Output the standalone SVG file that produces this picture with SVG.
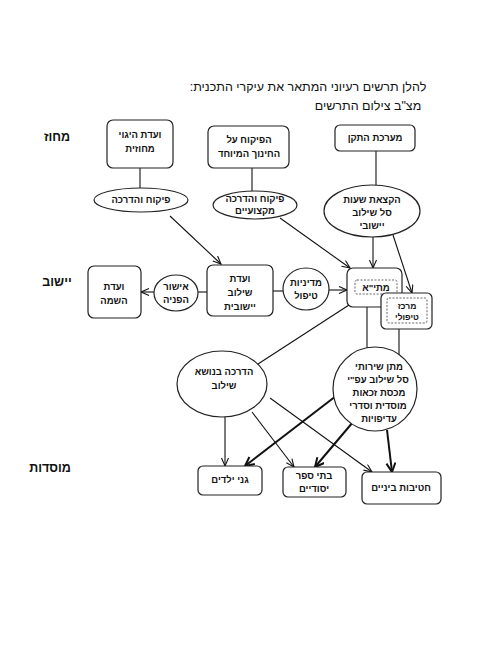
<svg xmlns="http://www.w3.org/2000/svg" width="495" height="660" viewBox="0 0 495 660">
<defs>
<marker id="ah" markerUnits="userSpaceOnUse" markerWidth="12" markerHeight="10" refX="9" refY="4" orient="auto">
<path d="M1,0.5 L9,4 L1,7.5" fill="none" stroke="#111" stroke-width="1.1"/>
</marker>
<marker id="ahb" markerUnits="userSpaceOnUse" markerWidth="14" markerHeight="12" refX="10" refY="5" orient="auto">
<path d="M1,0.5 L10,5 L1,9.5" fill="none" stroke="#111" stroke-width="2"/>
</marker>
</defs>
<style>
text{font-family:"Liberation Sans","DejaVu Sans",sans-serif;font-weight:bold;fill:#111;direction:rtl;text-anchor:middle}
.t{font-size:9.5px}
.h{font-size:12.5px;font-weight:normal}
.s{font-size:12.5px}
.b{fill:#fff;stroke:#222;stroke-width:1.2}
.d{fill:none;stroke:#555;stroke-width:0.9;stroke-dasharray:2,1.5}
.l{stroke:#111;stroke-width:1.1;fill:none}
.k{stroke:#111;stroke-width:2;fill:none}
</style>
<rect width="495" height="660" fill="#fff"/>
<text class="h" x="308" y="91">להלן תרשים רעיוני המתאר את עיקרי התכנית:</text>
<text class="h" x="368" y="110">מצ"ב צילום התרשים</text>
<text class="s" x="57" y="141">מחוז</text>
<text class="s" x="57" y="286">יישוב</text>
<text class="s" x="50" y="472">מוסדות</text>
<g id="connectors">
<line class="l" x1="140" y1="168" x2="140" y2="188"/>
<line class="l" x1="252" y1="168" x2="252" y2="191"/>
<line class="l" x1="376" y1="151" x2="376" y2="185"/>
<line class="l" x1="170" y1="216" x2="221" y2="264" marker-end="url(#ah)"/>
<line class="l" x1="280" y1="218" x2="350" y2="268" marker-end="url(#ah)"/>
<line class="l" x1="373" y1="237" x2="373" y2="268" marker-end="url(#ah)"/>
<line class="l" x1="393" y1="235" x2="412" y2="293" marker-end="url(#ah)"/>
<line class="l" x1="198" y1="292" x2="207" y2="292"/>
<line class="l" x1="154" y1="292" x2="141" y2="292" marker-end="url(#ah)"/>
<line class="l" x1="273" y1="291" x2="283" y2="291"/>
<line class="l" x1="329" y1="290" x2="347" y2="290" marker-end="url(#ah)"/>
<line class="l" x1="349" y1="305" x2="258" y2="364"/>
<line class="l" x1="367" y1="307" x2="367" y2="348"/>
<line class="l" x1="399" y1="329" x2="399" y2="354"/>
<line class="l" x1="225" y1="416" x2="225" y2="466" marker-end="url(#ah)"/>
<line class="l" x1="252" y1="412" x2="294" y2="467" marker-end="url(#ah)"/>
<line class="l" x1="270" y1="398" x2="372" y2="472" marker-end="url(#ah)"/>
<line class="k" x1="336" y1="396" x2="245" y2="466" marker-end="url(#ahb)"/>
<line class="k" x1="353" y1="422" x2="315" y2="467" marker-end="url(#ahb)"/>
<line class="k" x1="387" y1="430" x2="392" y2="472" marker-end="url(#ahb)"/>
</g>
<g id="vaadat-higui">
<rect class="b" x="107" y="120" width="66" height="48" rx="6"/>
<text class="t" x="140" y="138">ועדת היגוי</text>
<text class="t" x="140" y="152">מחוזית</text>
</g>
<g id="pikuach-chinuch">
<rect class="b" x="208" y="126" width="81" height="42" rx="6"/>
<text class="t" x="249" y="143">הפיקוח על</text>
<text class="t" x="249" y="157">החינוך המיוחד</text>
</g>
<g id="maarechet-teken">
<rect class="b" x="335" y="125" width="80" height="26" rx="5"/>
<text class="t" x="375" y="141">מערכת התקן</text>
</g>
<g id="pikuach-hadracha">
<ellipse class="b" cx="141" cy="200" rx="47" ry="12"/>
<text class="t" x="141" y="203">פיקוח והדרכה</text>
</g>
<g id="pikuach-miktzoiim">
<ellipse class="b" cx="255" cy="205" rx="42" ry="14"/>
<text class="t" x="255" y="202">פיקוח והדרכה</text>
<text class="t" x="255" y="214">מקצועיים</text>
</g>
<g id="haktzaat-shaot">
<ellipse class="b" cx="372" cy="211" rx="48" ry="26"/>
<text class="t" x="372" y="203">הקצאת שעות</text>
<text class="t" x="372" y="216">סל שילוב</text>
<text class="t" x="372" y="229">יישובי</text>
</g>
<g id="vaadat-hasama">
<rect class="b" x="88" y="266" width="53" height="52" rx="6"/>
<text class="t" x="114" y="290">ועדת</text>
<text class="t" x="114" y="304">השמה</text>
</g>
<g id="ishur-hafnaya">
<ellipse class="b" cx="176" cy="293" rx="22" ry="18"/>
<text class="t" x="176" y="290">אישור</text>
<text class="t" x="176" y="303">הפניה</text>
</g>
<g id="vaadat-shiluv">
<rect class="b" x="207" y="265" width="66" height="51" rx="6"/>
<text class="t" x="240" y="282">ועדת</text>
<text class="t" x="240" y="296">שילוב</text>
<text class="t" x="240" y="310">יישובית</text>
</g>
<g id="mediniut-tipul">
<ellipse class="b" cx="306" cy="289" rx="23" ry="21"/>
<text class="t" x="306" y="286">מדיניות</text>
<text class="t" x="306" y="299">טיפול</text>
</g>
<g id="matia">
<rect class="b" x="347" y="268" width="55" height="39" rx="6"/>
<rect class="d" x="355" y="280" width="42" height="14" rx="2"/>
<text class="t" x="376" y="291">מתי"א</text>
</g>
<g id="merkaz-tipuli">
<rect class="b" x="381" y="293" width="51" height="36" rx="5"/>
<rect class="d" x="387" y="298" width="40" height="25" rx="2"/>
<text class="t" x="407" y="309" style="font-size:8.5px">מרכז</text>
<text class="t" x="407" y="320" style="font-size:8.5px">טיפולי</text>
</g>
<g id="hadracha-shiluv">
<ellipse class="b" cx="222" cy="384" rx="45" ry="33"/>
<text class="t" x="224" y="375">הדרכה בנושא</text>
<text class="t" x="224" y="389">שילוב</text>
</g>
<g id="matan-sherutei">
<ellipse class="b" cx="375" cy="389" rx="42" ry="42"/>
<text class="t" x="379" y="370">מתן שירותי</text>
<text class="t" x="378" y="383">סל שילוב עפ"י</text>
<text class="t" x="379" y="396">מכסת זכאות</text>
<text class="t" x="378" y="409">מוסדית וסדרי</text>
<text class="t" x="379" y="422">עדיפויות</text>
</g>
<g id="ganei-yeladim">
<rect class="b" x="198" y="466" width="64" height="29" rx="5"/>
<text class="t" x="230" y="483">גני ילדים</text>
</g>
<g id="batei-sefer">
<rect class="b" x="283" y="467" width="63" height="30" rx="5"/>
<text class="t" x="314" y="479">בתי ספר</text>
<text class="t" x="314" y="492">יסודיים</text>
</g>
<g id="chativot-beinaim">
<rect class="b" x="362" y="472" width="79" height="32" rx="5"/>
<text class="t" x="401" y="491">חטיבות ביניים</text>
</g>
</svg>
